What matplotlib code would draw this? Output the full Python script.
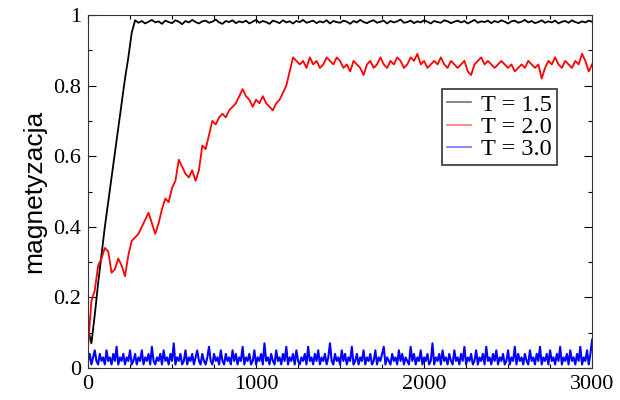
import numpy as np
import matplotlib
matplotlib.use("Agg")
import matplotlib.pyplot as plt
from matplotlib.ticker import MultipleLocator

# ---------------- data ----------------
t_black = np.arange(0, 3001, 20)
m_black = [0.11, 0.07, 0.15, 0.24, 0.32, 0.40, 0.47, 0.54, 0.61, 0.68, 0.75, 0.82, 0.88, 0.95, 0.985,
           0.978, 0.983, 0.976, 0.981, 0.986, 0.979, 0.982, 0.975, 0.984, 0.980,
           0.977, 0.985, 0.981, 0.974, 0.983, 0.979, 0.986, 0.980, 0.976, 0.982,
           0.984, 0.978, 0.981, 0.987, 0.979, 0.975, 0.983, 0.980, 0.985, 0.977,
           0.982, 0.979, 0.984, 0.976, 0.981, 0.986, 0.978, 0.983, 0.980, 0.975,
           0.984, 0.981, 0.977, 0.985, 0.979, 0.982, 0.976, 0.983, 0.980, 0.986,
           0.978, 0.981, 0.984, 0.977, 0.982, 0.979, 0.985, 0.976, 0.983, 0.980,
           0.978, 0.984, 0.981, 0.975, 0.983, 0.979, 0.986, 0.980, 0.977, 0.982,
           0.985, 0.978, 0.981, 0.984, 0.976, 0.983, 0.979, 0.982, 0.987, 0.978,
           0.980, 0.984, 0.977, 0.982, 0.979, 0.985, 0.981, 0.976, 0.983, 0.980,
           0.978, 0.985, 0.982, 0.977, 0.981, 0.984, 0.979, 0.983, 0.976, 0.981,
           0.986, 0.978, 0.982, 0.980, 0.984, 0.977, 0.983, 0.979, 0.985, 0.981,
           0.976, 0.982, 0.984, 0.978, 0.981, 0.986, 0.979, 0.983, 0.977, 0.980,
           0.985, 0.978, 0.982, 0.979, 0.984, 0.976, 0.981, 0.983, 0.978, 0.985,
           0.980, 0.977, 0.982, 0.979, 0.984, 0.981]

t_red = np.arange(0, 3001, 20)
m_red = [0.06, 0.19, 0.22, 0.29, 0.31, 0.34, 0.33, 0.27, 0.28, 0.31,
         0.29, 0.26, 0.32, 0.36, 0.37, 0.38, 0.40, 0.42, 0.44, 0.41,
         0.38, 0.41, 0.45, 0.48, 0.47, 0.51, 0.53, 0.59, 0.57, 0.55,
         0.54, 0.56, 0.53, 0.56, 0.63, 0.62, 0.66, 0.70, 0.69, 0.71,
         0.72, 0.71, 0.73, 0.74, 0.75, 0.77, 0.79, 0.77, 0.76, 0.74,
         0.76, 0.75, 0.77, 0.75, 0.74, 0.73, 0.75, 0.76, 0.78, 0.80,
         0.84, 0.88, 0.87,
         0.86, 0.87, 0.85, 0.88, 0.86, 0.87, 0.85, 0.86, 0.88, 0.87,
         0.86, 0.88, 0.87, 0.85, 0.86, 0.84, 0.87, 0.86, 0.85, 0.83,
         0.86, 0.87, 0.85, 0.86, 0.88, 0.86, 0.85, 0.87, 0.86, 0.88,
         0.87, 0.85, 0.86, 0.88, 0.87, 0.89, 0.86, 0.87, 0.85, 0.86,
         0.87, 0.86, 0.88, 0.86, 0.85, 0.87, 0.86, 0.85, 0.86, 0.87,
         0.84, 0.83, 0.86, 0.87, 0.88, 0.86, 0.87, 0.86, 0.85, 0.86,
         0.87, 0.86, 0.85, 0.86, 0.84, 0.85, 0.86, 0.85, 0.87, 0.86,
         0.85, 0.86, 0.82, 0.85, 0.87, 0.86, 0.88, 0.86, 0.85, 0.87,
         0.86, 0.85, 0.87, 0.86, 0.89, 0.87, 0.84, 0.86]

t_blue = np.arange(0, 3001, 10)
m_blue = [0.02, 0.04, 0.01, 0.03, 0.05, 0.02, 0.01, 0.04, 0.02, 0.03,
          0.01, 0.05, 0.02, 0.03, 0.01, 0.04, 0.02, 0.06, 0.01, 0.03,
          0.02, 0.04, 0.01, 0.03, 0.02, 0.05, 0.01, 0.02, 0.04, 0.01,
          0.03, 0.02, 0.05, 0.01, 0.03, 0.02, 0.04, 0.01, 0.06, 0.02,
          0.01, 0.03, 0.02, 0.04, 0.01, 0.05, 0.02, 0.03, 0.01, 0.04,
          0.02, 0.07, 0.01, 0.03, 0.02, 0.04, 0.01, 0.02, 0.05, 0.01,
          0.03, 0.02, 0.04, 0.01, 0.03, 0.05, 0.02, 0.01, 0.04, 0.02,
          0.01, 0.03, 0.06, 0.02, 0.01, 0.04, 0.02, 0.03, 0.01, 0.05,
          0.02, 0.01, 0.04, 0.02, 0.03, 0.01, 0.05, 0.02, 0.04, 0.01,
          0.03, 0.02, 0.06, 0.01, 0.03, 0.02, 0.04, 0.01, 0.02, 0.05,
          0.01, 0.03, 0.02, 0.04, 0.01, 0.07, 0.02, 0.03, 0.01, 0.04,
          0.02, 0.01, 0.05, 0.02, 0.03, 0.01, 0.04, 0.02, 0.06, 0.01,
          0.03, 0.02, 0.04, 0.01, 0.05, 0.02, 0.01, 0.03, 0.02, 0.04,
          0.01, 0.06, 0.02, 0.03, 0.01, 0.04, 0.02, 0.05, 0.01, 0.03,
          0.02, 0.04, 0.01, 0.03, 0.07, 0.02, 0.01, 0.04, 0.02, 0.03,
          0.01, 0.05, 0.02, 0.04, 0.01, 0.03, 0.02, 0.06, 0.01, 0.02,
          0.04, 0.01, 0.03, 0.02, 0.05, 0.01, 0.03, 0.02, 0.04, 0.01,
          0.02, 0.05, 0.01, 0.03, 0.02, 0.04, 0.06, 0.01, 0.03, 0.02,
          0.01, 0.04, 0.02, 0.03, 0.01, 0.05, 0.02, 0.04, 0.01, 0.03,
          0.02, 0.01, 0.06, 0.02, 0.04, 0.01, 0.03, 0.02, 0.05, 0.01,
          0.03, 0.02, 0.04, 0.01, 0.02, 0.07, 0.01, 0.03, 0.02, 0.04,
          0.01, 0.05, 0.02, 0.03, 0.01, 0.04, 0.02, 0.01, 0.05, 0.02,
          0.03, 0.01, 0.04, 0.02, 0.06, 0.01, 0.03, 0.02, 0.04, 0.01,
          0.02, 0.05, 0.01, 0.03, 0.02, 0.04, 0.01, 0.06, 0.02, 0.03,
          0.01, 0.04, 0.02, 0.05, 0.01, 0.03, 0.02, 0.04, 0.01, 0.02,
          0.05, 0.01, 0.03, 0.02, 0.06, 0.01, 0.04, 0.02, 0.03, 0.01,
          0.04, 0.02, 0.01, 0.05, 0.02, 0.03, 0.01, 0.04, 0.02, 0.06,
          0.01, 0.03, 0.02, 0.04, 0.01, 0.05, 0.02, 0.03, 0.01, 0.04,
          0.02, 0.06, 0.01, 0.03, 0.02, 0.04, 0.01, 0.05, 0.02, 0.03,
          0.01, 0.04, 0.02, 0.06, 0.01, 0.03, 0.02, 0.05, 0.01, 0.04,
          0.08]

labels = ["T = 1.5", "T = 2.0", "T = 3.0"]
x_ticks = [0, 1000, 2000, 3000]
y_ticks = [0, 0.2, 0.4, 0.6, 0.8, 1]
y_ticklabels = ["0", "0.2", "0.4", "0.6", "0.8", "1"]

# ---------------- plot ----------------
fig = plt.figure(figsize=(6.2, 4.0), dpi=100)
ax = fig.add_axes([0.142, 0.08, 0.813, 0.8825])

ax.plot(t_black, m_black, color="black", lw=1.3, label=labels[0])
ax.plot(t_red, m_red, color="#ff0000", lw=1.3, label=labels[1])
ax.plot(t_blue, m_blue, color="#0000ff", lw=1.5, label=labels[2])

ax.set_xlim(0, 3000)
ax.set_ylim(0, 1)
ax.set_xticks(x_ticks)
ax.set_yticks(y_ticks)
ax.set_yticklabels(y_ticklabels)
ax.xaxis.set_minor_locator(MultipleLocator(250))
ax.yaxis.set_minor_locator(MultipleLocator(0.1))
ax.tick_params(which="both", direction="in", top=True, right=True, width=0.8)
ax.tick_params(which="major", length=6, labelsize=16, pad=5)
ax.tick_params(which="minor", length=3)
for lab in ax.get_xticklabels() + ax.get_yticklabels():
    lab.set_fontfamily("Liberation Serif")
for s in ax.spines.values():
    s.set_linewidth(0.8)
    s.set_color("#333333")

ax.set_ylabel("magnetyzacja", fontsize=19, family="Liberation Sans", labelpad=5)

leg = ax.legend(loc="upper right", bbox_to_anchor=(0.93, 0.79),
                prop={"family": "Liberation Serif", "size": 17.5},
                frameon=True, fancybox=False, edgecolor="black",
                handlelength=1.0, handletextpad=0.4, labelspacing=0.0,
                borderpad=0.2, borderaxespad=0.0)
leg.get_frame().set_linewidth(1.2)
for line in leg.get_lines():
    line.set_alpha(0.55)
    line.set_linewidth(1.2)

fig.savefig("out.png", dpi=100)
